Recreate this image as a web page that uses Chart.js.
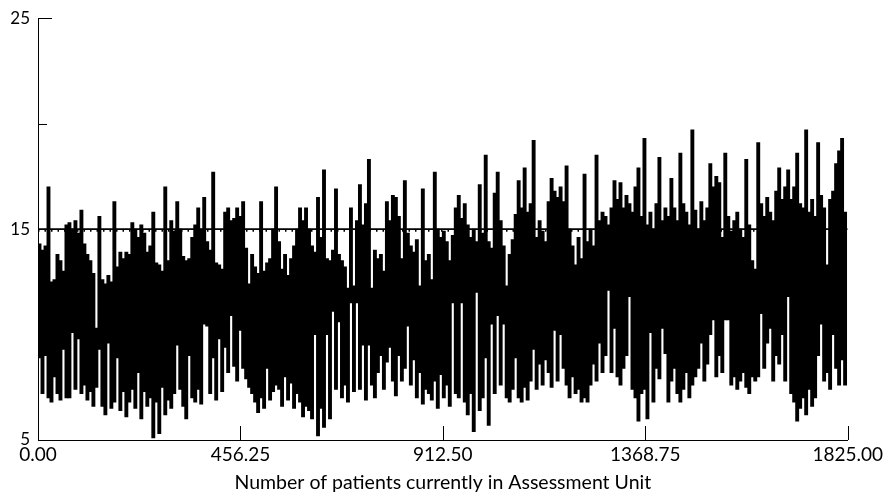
<!DOCTYPE html>
<html>
<head>
<meta charset="utf-8">
<script src="https://cdn.jsdelivr.net/npm/chart.js@4.4.1/dist/chart.umd.min.js"></script>
<style>
  html, body { margin: 0; padding: 0; background: #fff; }
</style>
</head>
<body>
<canvas id="chart" width="886" height="495"></canvas>
<script>
const upperValues = [
  14.3, 14.0, 14.2, 17.0, 12.5, 12.6, 13.8, 13.5, 13.0, 15.2,
  15.3, 15.0, 15.4, 14.8, 15.9, 14.3, 13.8, 13.5, 12.9, 10.3,
  15.6, 12.6, 12.4, 12.8, 12.5, 16.3, 13.2, 13.9, 13.6, 13.9,
  13.8, 15.3, 15.0, 14.6, 15.2, 14.8, 13.9, 14.2, 15.8, 13.4,
  13.3, 13.0, 17.0, 13.5, 15.4, 14.9, 16.3, 15.0, 13.7, 13.5,
  13.6, 14.6, 15.2, 16.0, 15.0, 16.5, 14.4, 14.0, 17.7, 13.4,
  13.3, 13.1, 15.8, 16.0, 15.4, 15.5, 16.0, 15.6, 16.3, 14.1,
  12.4, 13.8, 13.2, 12.9, 16.3, 13.0, 13.4, 13.6, 15.0, 17.0,
  14.4, 13.1, 13.8, 12.8, 13.6, 14.2, 15.0, 16.0, 15.4, 16.0,
  15.0, 14.2, 13.9, 16.5, 14.6, 17.8, 13.6, 13.5, 14.0, 16.9,
  13.8, 13.5, 13.2, 12.2, 16.0, 12.3, 15.4, 17.1, 15.2, 16.2,
  18.3, 12.2, 14.0, 13.6, 13.8, 13.0, 16.3, 15.4, 16.6, 16.5,
  15.6, 13.6, 17.3, 14.8, 14.2, 13.9, 14.5, 12.3, 16.9, 13.5,
  13.8, 12.6, 17.7, 15.0, 14.6, 14.9, 14.4, 13.5, 14.7, 16.0,
  16.6, 15.5, 16.2, 15.2, 14.6, 15.0, 14.4, 17.1, 14.8, 18.5,
  14.4, 14.1, 16.7, 17.7, 15.4, 14.2, 12.3, 13.8, 14.5, 15.7,
  17.3, 16.0, 17.9, 15.8, 16.2, 19.2, 14.6, 15.4, 14.9, 14.4,
  16.3, 17.4, 16.8, 16.5, 17.0, 16.3, 18.0, 15.0, 14.2, 13.3,
  14.6, 13.6, 17.6, 14.4, 15.0, 14.2, 18.5, 15.4, 15.8, 15.6,
  15.2, 16.0, 17.3, 16.4, 17.2, 16.0, 16.6, 16.2, 15.8, 17.0,
  17.9, 15.6, 19.3, 15.2, 15.8, 15.0, 16.2, 18.4, 15.4, 16.0,
  15.6, 17.4, 16.0, 15.4, 18.6, 16.2, 15.8, 15.2, 19.7, 15.9,
  15.0, 16.3, 15.4, 16.0, 18.1, 17.0, 17.5, 17.2, 14.6, 18.6,
  15.6, 14.9, 15.4, 15.8, 15.0, 14.6, 18.3, 15.2, 13.5, 13.1,
  19.1, 16.2, 15.6, 16.5, 15.8, 15.4, 16.8, 17.9, 16.4, 17.0,
  17.8, 16.4, 17.0, 18.6, 16.2, 16.0, 19.7, 15.8, 16.4, 15.6,
  19.1, 16.6, 16.0, 13.3, 16.4, 16.8, 18.1, 18.7, 19.3, 15.8
];
const lowerValues = [
  8.9, 7.2, 9.0, 7.0, 6.8, 8.0, 7.2, 6.9, 9.3, 7.0,
  7.0, 10.1, 7.4, 9.8, 7.2, 7.6, 6.9, 7.3, 6.6, 7.5,
  9.3, 6.6, 6.2, 9.6, 6.5, 6.8, 8.9, 6.4, 7.3, 6.1,
  6.8, 7.4, 6.5, 8.2, 6.0, 7.3, 6.6, 7.0, 5.1, 6.8,
  5.3, 7.5, 6.2, 6.9, 6.5, 7.2, 9.5, 7.4, 6.6, 6.0,
  9.0, 7.0, 6.8, 7.4, 6.7, 10.5, 10.4, 7.2, 8.9, 6.9,
  9.8, 7.3, 9.4, 8.2, 10.9, 8.5, 7.8, 10.2, 8.4, 7.9,
  7.5, 7.2, 6.8, 6.3, 7.0, 6.5, 8.4, 6.9, 7.3, 7.6,
  7.4, 6.6, 8.0, 6.9, 7.7, 6.5, 7.2, 6.8, 6.1, 6.6,
  6.4, 6.0, 10.0, 5.2, 6.5, 5.6, 10.0, 6.0, 11.1, 7.4,
  10.6, 7.0, 7.6, 6.8, 11.5, 7.3, 11.5, 7.4, 9.5, 6.9,
  9.5, 7.6, 7.0, 8.2, 9.0, 7.4, 8.7, 9.4, 7.8, 7.1,
  9.0, 7.8, 8.4, 10.4, 7.6, 8.8, 7.0, 8.2, 6.7, 7.4,
  7.2, 6.9, 7.8, 6.5, 8.1, 7.0, 7.6, 6.6, 11.5, 7.2,
  7.0, 11.5, 6.8, 6.2, 7.2, 5.4, 12.0, 6.4, 7.0, 8.9,
  5.7, 10.5, 7.2, 10.9, 7.6, 10.5, 7.0, 6.8, 7.4, 8.9,
  7.0, 6.8, 7.5, 6.9, 7.8, 9.3, 7.4, 8.6, 7.6, 8.8,
  8.2, 7.5, 10.2, 7.8, 10.0, 8.4, 7.6, 7.0, 8.0, 7.2,
  7.4, 6.8, 7.0, 6.8, 7.6, 8.6, 7.8, 9.6, 8.2, 9.0,
  12.1, 8.2, 10.3, 8.0, 7.6, 8.4, 9.0, 11.8, 7.4, 7.0,
  5.9, 7.2, 7.4, 6.0, 10.1, 6.8, 8.4, 7.9, 10.3, 9.1,
  6.8, 7.8, 8.4, 7.2, 6.8, 7.4, 8.2, 7.0, 7.6, 8.0,
  8.4, 9.6, 7.8, 8.6, 10.0, 10.7, 8.0, 9.0, 8.2, 10.7,
  10.7, 7.6, 8.0, 7.4, 7.8, 8.2, 7.5, 7.2, 8.0, 7.8,
  8.0, 11.0, 8.4, 9.6, 10.3, 7.8, 9.0, 8.6, 10.0, 7.8,
  11.8, 7.2, 6.8, 5.9, 6.5, 7.0, 6.2, 7.4, 6.6, 7.0,
  9.0, 10.5, 7.8, 8.2, 7.4, 10.0, 8.4, 7.6, 8.8, 7.6
];
const slotDays = 6.75; // days covered by one high/low slot

const xTickValues = [0, 456.25, 912.5, 1368.75, 1825];
const yTickValues = [5, 10, 15, 20, 25];
const yLabelled = [5, 15, 25];
const thresholdLevel = 15;
const dottedLevel = 14.92;

// each slot is the day-to-day swing of the trace: from its low up to its high
const swings = upperValues.map((v, i) => ({
  x: (i + 0.5) * slotDays,
  y: [lowerValues[i], v]
}));

const FONT = 'Lato, "DejaVu Sans", sans-serif';

// ticks point inwards in the original, so draw them ourselves
const innerTicks = {
  id: 'innerTicks',
  afterDraw(chart) {
    const { ctx, scales: { x, y } } = chart;
    ctx.save();
    ctx.strokeStyle = '#000';
    ctx.lineWidth = 1;
    yTickValues.forEach(v => {
      const py = Math.round(y.getPixelForValue(v)) + 0.5;
      const len = yLabelled.includes(v) ? 14 : 9;
      ctx.beginPath();
      ctx.moveTo(x.left, py);
      ctx.lineTo(x.left + len, py);
      ctx.stroke();
    });
    xTickValues.slice(1).forEach(v => {
      const px = Math.round(x.getPixelForValue(v)) + 0.5;
      ctx.beginPath();
      ctx.moveTo(px, y.bottom);
      ctx.lineTo(px, y.bottom - 14);
      ctx.stroke();
    });
    ctx.restore();
  }
};

new Chart(document.getElementById('chart'), {
  type: 'bar',
  data: {
    datasets: [
      {
        data: swings,
        backgroundColor: '#000',
        borderWidth: 0,
        barPercentage: 1,
        categoryPercentage: 1,
        inflateAmount: 0.45
      },
      {
        type: 'line',
        data: [{ x: 0, y: thresholdLevel }, { x: 1825, y: thresholdLevel }],
        borderColor: '#000',
        borderWidth: 1.6,
        pointRadius: 0
      },
      {
        type: 'line',
        data: [{ x: 0, y: dottedLevel }, { x: 1825, y: dottedLevel }],
        borderColor: '#000',
        borderWidth: 2,
        borderDash: [1.5, 5],
        pointRadius: 0
      }
    ]
  },
  options: {
    responsive: false,
    animation: false,
    devicePixelRatio: 1,
    layout: { autoPadding: false, padding: { top: 17, right: 37, bottom: 0, left: 0 } },
    plugins: { legend: { display: false }, tooltip: { enabled: false } },
    scales: {
      x: {
        type: 'linear',
        min: 0,
        max: 1825,
        offset: false,
        afterBuildTicks: s => { s.ticks = xTickValues.map(v => ({ value: v })); },
        afterFit: s => { s.height = 55; },
        grid: { display: false, drawTicks: false, offset: false },
        border: { display: true, color: '#000', width: 1 },
        ticks: {
          autoSkip: false,
          maxRotation: 0,
          padding: 3,
          color: '#000',
          font: { family: FONT, size: 19 },
          callback: v => Number(v).toFixed(2)
        },
        title: {
          display: true,
          text: 'Number of patients currently in Assessment Unit',
          color: '#000',
          font: { family: FONT, size: 19.5 },
          padding: { top: 0, bottom: 1 }
        }
      },
      y: {
        min: 5,
        max: 25,
        afterFit: s => { s.width = 38; },
        grid: { display: false, drawTicks: false },
        border: { display: true, color: '#000', width: 1 },
        ticks: {
          stepSize: 5,
          padding: 8,
          color: '#000',
          font: { family: FONT, size: 17 },
          callback: v => (yLabelled.includes(v) ? String(v) : '')
        }
      }
    }
  },
  plugins: [innerTicks]
});
</script>
</body>
</html>
